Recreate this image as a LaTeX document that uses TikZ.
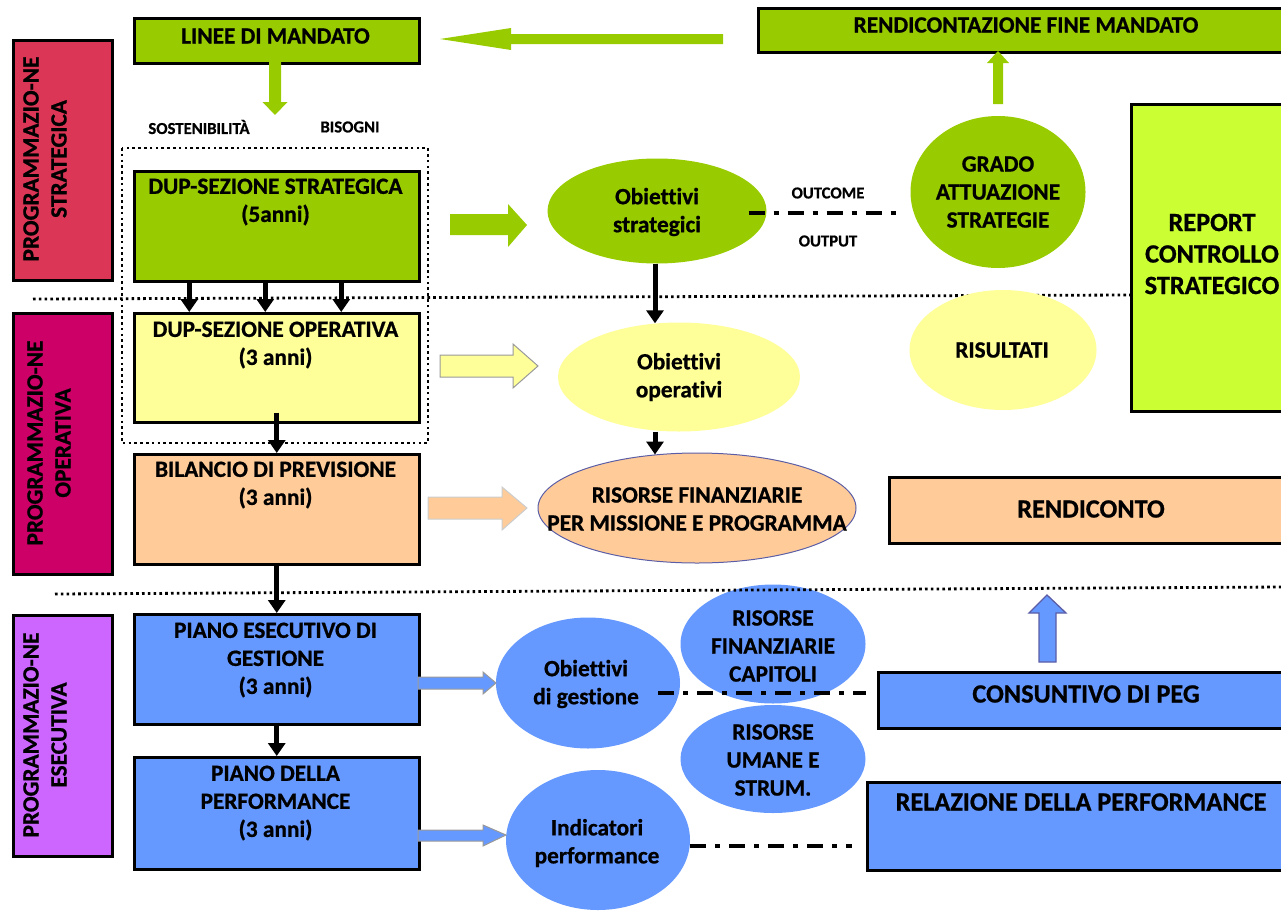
\documentclass[tikz,border=0pt]{standalone}
\usepackage{fontspec}
\setmainfont{Carlito}[Ligatures=NoCommon, BoldFeatures={FakeBold=0.8}]
\usetikzlibrary{arrows.meta,shapes.geometric,calc}
\definecolor{cgreen}{HTML}{99CC00}
\definecolor{clime}{HTML}{CCFF33}
\definecolor{cred}{HTML}{DC3656}
\definecolor{cmag}{HTML}{CC0066}
\definecolor{cviol}{HTML}{CC66FF}
\definecolor{cyellow}{HTML}{FFFF99}
\definecolor{cpeach}{HTML}{FFCC99}
\definecolor{cblue}{HTML}{6699FF}
\definecolor{cedge}{HTML}{5B5EA6}
\newcommand\fmain{\fontsize{23.3}{28}\selectfont\bfseries}
\newcommand\fsmall{\fontsize{16.7}{19}\selectfont\bfseries}
\newcommand\fbig{\fontsize{26.3}{31.5}\selectfont\bfseries}
\tikzset{
  box/.style={rectangle, draw=black, line width=2.5pt, inner sep=0pt, anchor=north west},
  blob/.style={ellipse, inner sep=0pt},
  txt/.style={align=center, font=\fmain, inner sep=0pt},
  stxt/.style={align=center, font=\fsmall, inner sep=0pt},
  btxt/.style={align=center, font=\fbig, inner sep=0pt},
  blk/.style={line width=5pt, -{Triangle[width=17pt,length=13pt]}},
  dd/.style={line width=4pt, dash pattern=on 16pt off 9pt on 5pt off 9pt},
  dots/.style={line width=2.8pt, dash pattern=on 2.6pt off 3.2pt},
  barrow/.style={line width=1pt, line join=miter}
}
\begin{document}
\begin{tikzpicture}[x=1pt,y=-1pt]
\useasboundingbox (0,0) rectangle (1281,910);

% separators
\draw[dots] (33,299) -- (1130,295);
\draw[dots] (122,148) rectangle (428,443);

% left bars
\node[box, fill=cred, minimum width=99pt, minimum height=240pt] (barS) at (12,39) {};
\node[txt, rotate=90] (barSt) at (45,159) {PROGRAMMAZIO-NE\\STRATEGICA};
\node[box, fill=cmag, minimum width=99pt, minimum height=261pt] (barO) at (12,312) {};
\node[txt, rotate=90] (barOt) at (49,443) {PROGRAMMAZIO-NE\\OPERATIVA};
\node[box, fill=cviol, minimum width=99pt, minimum height=241pt] (barE) at (12,614) {};
\node[txt, rotate=90] (barEt) at (45,735) {PROGRAMMAZIO-NE\\ESECUTIVA};

% main column boxes
\node[box, fill=cgreen, minimum width=285pt, minimum height=45pt] (linee) at (133,17) {};
\node[txt] (lineet) at (275.5,36) {LINEE DI MANDATO};
\node[box, fill=cgreen, minimum width=285pt, minimum height=110pt] (dupS) at (133,170) {};
\node[txt] (dupSt) at (275.5,202) {DUP-SEZIONE STRATEGICA\\(5anni)};
\node[box, fill=cyellow, minimum width=285pt, minimum height=109pt] (dupO) at (133,312) {};
\node[txt] (dupOt) at (275.5,345) {DUP-SEZIONE OPERATIVA\\(3 anni)};
\node[box, fill=cpeach, minimum width=285pt, minimum height=110pt] (bil) at (133,453) {};
\node[txt] (bilt) at (275.5,485) {BILANCIO DI PREVISIONE\\(3 anni)};
\node[box, fill=cblue, minimum width=285pt, minimum height=110pt] (peg) at (133,613) {};
\node[txt] (pegt) at (275.5,660) {PIANO ESECUTIVO DI\\GESTIONE\\(3 anni)};
\node[box, fill=cblue, minimum width=285pt, minimum height=112pt] (perf) at (133,756) {};
\node[txt] (perft) at (275.5,803) {PIANO DELLA\\PERFORMANCE\\(3 anni)};

% small labels
\node[stxt] (sost) at (199,127) {SOSTENIBILITÀ};
\node[stxt] (bis) at (350,127) {BISOGNI};

% right boxes
\node[box, fill=cgreen, minimum width=538pt, minimum height=44pt] (rfm) at (757,7) {};
\node[txt] (rfmt) at (1026,25) {RENDICONTAZIONE FINE MANDATO};
\node[box, fill=clime, minimum width=165pt, minimum height=307pt] (report) at (1130,103) {};
\node[btxt] (reportt) at (1212,254) {REPORT\\CONTROLLO\\STRATEGICO};
\node[box, fill=cpeach, minimum width=407pt, minimum height=66pt] (rendic) at (888,476) {};
\node[btxt] (rendict) at (1091,509) {RENDICONTO};
\node[box, fill=cblue, minimum width=418pt, minimum height=56pt] (cons) at (877,671) {};
\node[btxt] (const) at (1086,694) {CONSUNTIVO DI PEG};
\node[box, fill=cblue, minimum width=430pt, minimum height=88pt] (rel) at (866,781) {};
\node[btxt] (relt) at (1081,802) {RELAZIONE DELLA PERFORMANCE};

% ellipses
\node[blob, fill=cgreen, minimum width=219pt, minimum height=105pt] (os) at (657,211) {};
\node[txt] (ost) at (657,212) {Obiettivi\\strategici};
\node[blob, fill=cgreen, minimum width=175pt, minimum height=152pt] (grado) at (998,192) {};
\node[txt] (gradot) at (998,192) {GRADO\\ATTUAZIONE\\STRATEGIE};
\node[blob, fill=cyellow, minimum width=242pt, minimum height=109pt] (oo) at (679,377) {};
\node[txt] (oot) at (679,377) {Obiettivi\\operativi};
\node[blob, fill=cyellow, minimum width=187pt, minimum height=120pt] (ris) at (1003,350) {};
\node[txt] (rist) at (1002,350) {RISULTATI};
\node[blob, fill=cpeach, draw=cedge, line width=1pt, minimum width=318pt, minimum height=110pt] (rf) at (697,508) {};
\node[txt] (rft) at (697,509) {RISORSE FINANZIARIE\\PER MISSIONE E PROGRAMMA};
\node[blob, fill=cblue, minimum width=184pt, minimum height=131pt] (og) at (588,683) {};
\node[txt] (ogt) at (586,684) {Obiettivi\\di gestione};
\node[blob, fill=cblue, minimum width=185pt, minimum height=119pt] (rfc) at (773,644) {};
\node[txt] (rfct) at (773,646) {RISORSE\\FINANZIARIE\\CAPITOLI};
\node[blob, fill=cblue, minimum width=185pt, minimum height=108pt] (rus) at (773,759) {};
\node[txt] (rust) at (773,760) {RISORSE\\UMANE E\\STRUM.};
\node[blob, fill=cblue, minimum width=184pt, minimum height=140pt] (ip) at (598,840) {};
\node[txt] (ipt) at (597,843) {Indicatori\\performance};

% outcome / output
\node[stxt] (outc) at (828,193) {OUTCOME};
\node[stxt] (outp) at (828,241) {OUTPUT};

% bottom separator (over circles)
\draw[dots] (55,594) -- (1281,587);

% black arrows
\draw[blk] ([xshift=-87.5pt]dupS.south) -- ([xshift=-87.5pt]dupO.north);
\draw[blk] ([xshift=-11.5pt]dupS.south) -- ([xshift=-11.5pt]dupO.north);
\draw[blk] ([xshift=64.5pt]dupS.south) -- ([xshift=64.5pt]dupO.north);
\draw[blk] ([yshift=11pt]dupO.south) -- (bil.north);
\draw[blk] (bil.south) -- (peg.north);
\draw[blk] ([yshift=3pt]peg.south) -- (perf.north);
\coordinate (colx) at (655,0);
\draw[blk] (os.south -| colx) -- ([yshift=-1pt]oo.north -| colx);
\draw[blk] (oo.south -| colx) -- ([yshift=-2pt]rf.north -| colx);

% block arrows
\fill[cgreen] (269,62) -- (281,62) -- (281,102) -- (287.5,102) -- (275,115) -- (262.5,102) -- (269,102) -- cycle;
\fill[cgreen] (723,34) -- (511,34) -- (511,28) -- (440,39) -- (511,50) -- (511,44) -- (723,44) -- cycle;
\fill[cgreen] (993,104) -- (993,63) -- (987,63) -- (998,51) -- (1009,63) -- (1003,63) -- (1003,104) -- cycle;
\fill[cgreen] (450,214) -- (508,214) -- (508,204) -- (527,225) -- (508,247) -- (508,235) -- (450,235) -- cycle;
\draw[barrow, fill=cyellow, draw=black!40] (440,355) -- (513,355) -- (513,344) -- (538,366) -- (513,388) -- (513,377) -- (440,377) -- cycle;
\draw[barrow, fill=cpeach, draw=black!20] (428,497) -- (502,497) -- (502,487) -- (527,508) -- (502,530) -- (502,519) -- (428,519) -- cycle;
\draw[barrow, fill=cblue, draw=black!40] (418,677) -- (483,677) -- (483,672) -- (496,683) -- (483,694) -- (483,689) -- (418,689) -- cycle;
\draw[barrow, fill=cblue, draw=black!40] (418,830) -- (483,830) -- (483,825) -- (506,835) -- (483,846) -- (483,841) -- (418,841) -- cycle;
\draw[barrow, fill=cblue, draw=cedge, line width=1.3pt] (1039,662) -- (1039,613) -- (1029,613) -- (1047,595) -- (1066,613) -- (1056,613) -- (1056,662) -- cycle;

% dash-dot connectors
\draw[dd] ($(os.east)+(-18,2)$) -- ($(os.east -| grado.west)+(-10,2)$);
\draw[dd] ($(og.east)+(-22,10)$) -- ($(og.east -| cons.west)+(-11,10)$);
\draw[dd] ($(ip.east)+(0,6)$) -- ($(ip.east -| rel.west)+(-14,6)$);
\end{tikzpicture}
\end{document}
